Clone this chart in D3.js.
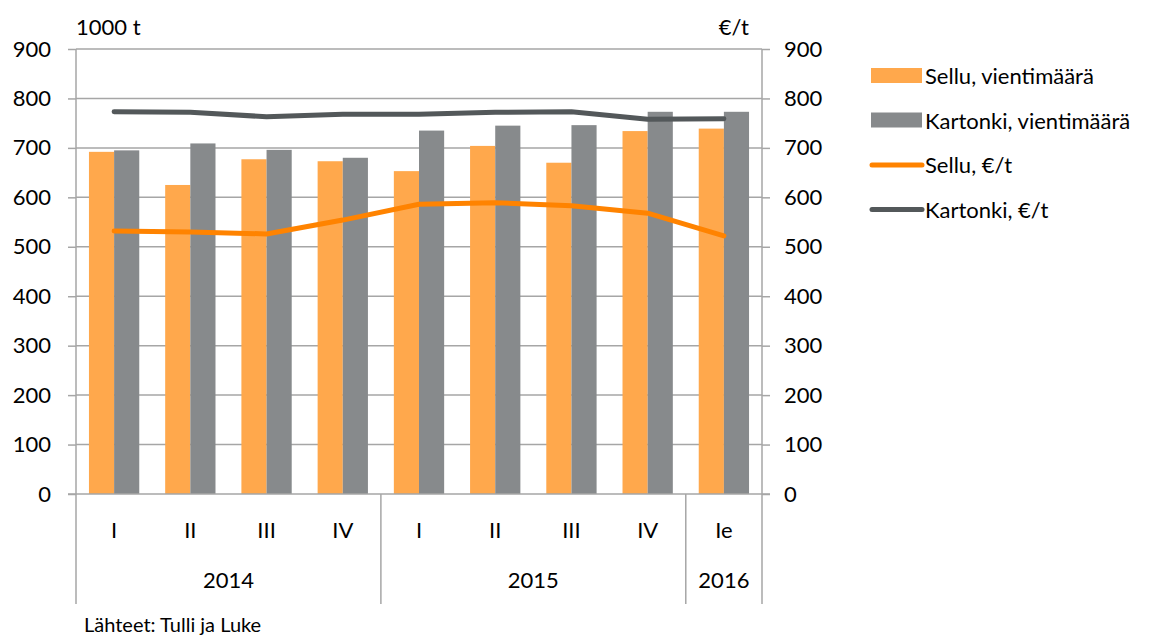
<!DOCTYPE html>
<meta charset="utf-8">
<style>
    body { margin: 0; background: #fff; }
    text { font-family: Lato, "Open Sans", sans-serif; fill: #000; }
</style>
<svg width="1167" height="635"></svg>

<script src="https://d3js.org/d3.v7.min.js"></script>
<script>
    var quarters = ["I", "II", "III", "IV", "I", "II", "III", "IV", "Ie"];
    var years = [
        {label: "2014", from: 0, to: 4},
        {label: "2015", from: 4, to: 8},
        {label: "2016", from: 8, to: 9}
    ];
    var selluMaara = [692, 625, 677, 673, 653, 704, 670, 734, 739];
    var kartonkiMaara = [695, 709, 696, 680, 735, 745, 746, 773, 773];
    var selluHinta = [532, 530, 526, 554, 586, 589, 583, 568, 522];
    var kartonkiHinta = [773, 772, 763, 768, 768, 772, 773, 758, 759];
    var ticks = [0, 100, 200, 300, 400, 500, 600, 700, 800, 900];

    (function () {
        var svg = d3.select("svg"),
            left = 76,
            right = 762,
            top = 49,
            bottom = 494,
            fs = "22px",
            idx = d3.range(quarters.length);

        var x = d3.scaleBand().domain(idx).range([left, right]).paddingInner(0.34).paddingOuter(0.17),
            xc = d3.scaleBand().domain(idx).range([left, right]),
            y = d3.scaleLinear().domain([0, 900]).range([bottom, top]),
            y2 = d3.scaleLinear().domain([0, 900]).range([bottom, top]);

        var grey = "#a6a6a6";

        // gridlines
        svg.append("g")
            .selectAll("line")
            .data(ticks.slice(1))
            .enter()
            .append("line")
            .attr("x1", left).attr("x2", right)
            .attr("y1", y).attr("y2", y)
            .attr("stroke", grey).attr("stroke-width", 1.5);

        // bars
        var bw = x.bandwidth() / 2;
        var bars = svg.append("g");
        bars.selectAll(".s")
            .data(selluMaara)
            .enter()
            .append("rect")
            .attr("x", function (d, i) { return x(i); })
            .attr("y", function (d) { return y(d); })
            .attr("width", bw)
            .attr("height", function (d) { return bottom - y(d); })
            .attr("fill", "#ffa84c");
        bars.selectAll(".k")
            .data(kartonkiMaara)
            .enter()
            .append("rect")
            .attr("x", function (d, i) { return x(i) + bw; })
            .attr("y", function (d) { return y(d); })
            .attr("width", bw)
            .attr("height", function (d) { return bottom - y(d); })
            .attr("fill", "#878a8c");

        // axes
        var yAxisL = d3.axisLeft(y).tickValues(ticks).tickSize(8).tickPadding(17),
            yAxisR = d3.axisRight(y2).tickValues(ticks).tickSize(8).tickPadding(14);

        var gl = svg.append("g").attr("transform", "translate(" + left + ",0)").call(yAxisL);
        var gr = svg.append("g").attr("transform", "translate(" + right + ",0)").call(yAxisR);
        [gl, gr].forEach(function (g) {
            g.select(".domain").remove();
            g.selectAll("line").attr("stroke", grey).attr("stroke-width", 1.5);
            g.selectAll("text").style("font-size", fs).attr("fill", "#000");
        });

        // axis lines
        svg.append("line").attr("x1", left).attr("x2", left).attr("y1", top).attr("y2", 604)
            .attr("stroke", grey).attr("stroke-width", 1.5);
        svg.append("line").attr("x1", right).attr("x2", right).attr("y1", top).attr("y2", 604)
            .attr("stroke", grey).attr("stroke-width", 1.5);
        svg.append("line").attr("x1", left - 8).attr("x2", right + 8).attr("y1", bottom).attr("y2", bottom)
            .attr("stroke", grey).attr("stroke-width", 1.5);

        // year separators
        svg.append("g")
            .selectAll("line")
            .data(years.slice(1))
            .enter()
            .append("line")
            .attr("x1", function (d) { return xc(d.from); })
            .attr("x2", function (d) { return xc(d.from); })
            .attr("y1", bottom).attr("y2", 604)
            .attr("stroke", grey).attr("stroke-width", 1.5);

        // quarter labels
        svg.append("g")
            .selectAll("text")
            .data(quarters)
            .enter()
            .append("text")
            .attr("x", function (d, i) { return xc(i) + xc.bandwidth() / 2; })
            .attr("y", 538)
            .attr("text-anchor", "middle")
            .style("font-size", fs)
            .text(function (d) { return d; });

        // year labels
        svg.append("g")
            .selectAll("text")
            .data(years)
            .enter()
            .append("text")
            .attr("x", function (d) { return (xc(d.from) + (d.to < quarters.length ? xc(d.to) : right)) / 2; })
            .attr("y", 588)
            .attr("text-anchor", "middle")
            .style("font-size", fs)
            .text(function (d) { return d.label; });

        // price lines
        var line = d3.line()
            .x(function (d, i) { return xc(i) + xc.bandwidth() / 2; })
            .y(function (d) { return y2(d); });

        svg.append("path").datum(selluHinta).attr("d", line)
            .attr("fill", "none").attr("stroke", "#ff8300").attr("stroke-width", 5)
            .attr("stroke-linecap", "round").attr("stroke-linejoin", "round");
        svg.append("path").datum(kartonkiHinta).attr("d", line)
            .attr("fill", "none").attr("stroke", "#53585a").attr("stroke-width", 5)
            .attr("stroke-linecap", "round").attr("stroke-linejoin", "round");

        // unit labels
        svg.append("text").attr("x", 76).attr("y", 35).style("font-size", fs).text("1000 t");
        svg.append("text").attr("x", 749).attr("y", 35).attr("text-anchor", "end").style("font-size", fs).text("€/t");

        // source
        svg.append("text").attr("x", 84).attr("y", 632).style("font-size", "20px").text("Lähteet: Tulli ja Luke");

        // legend
        var legend = [
            {label: "Sellu, vientimäärä", type: "rect", color: "#ffa84c"},
            {label: "Kartonki, vientimäärä", type: "rect", color: "#878a8c"},
            {label: "Sellu, €/t", type: "line", color: "#ff8300"},
            {label: "Kartonki, €/t", type: "line", color: "#53585a"}
        ];
        var lg = svg.append("g")
            .selectAll("g")
            .data(legend)
            .enter()
            .append("g")
            .attr("transform", function (d, i) { return "translate(870," + (76 + i * 44.5) + ")"; });
        lg.filter(function (d) { return d.type === "rect"; })
            .append("rect")
            .attr("x", 1).attr("y", -8).attr("width", 51).attr("height", 15)
            .attr("fill", function (d) { return d.color; });
        lg.filter(function (d) { return d.type === "line"; })
            .append("line")
            .attr("x1", 2).attr("x2", 52).attr("y1", 0).attr("y2", 0)
            .attr("stroke", function (d) { return d.color; })
            .attr("stroke-width", 5).attr("stroke-linecap", "round");
        lg.append("text")
            .attr("x", 55).attr("y", 8)
            .style("font-size", fs)
            .text(function (d) { return d.label; });
    })();
</script>
